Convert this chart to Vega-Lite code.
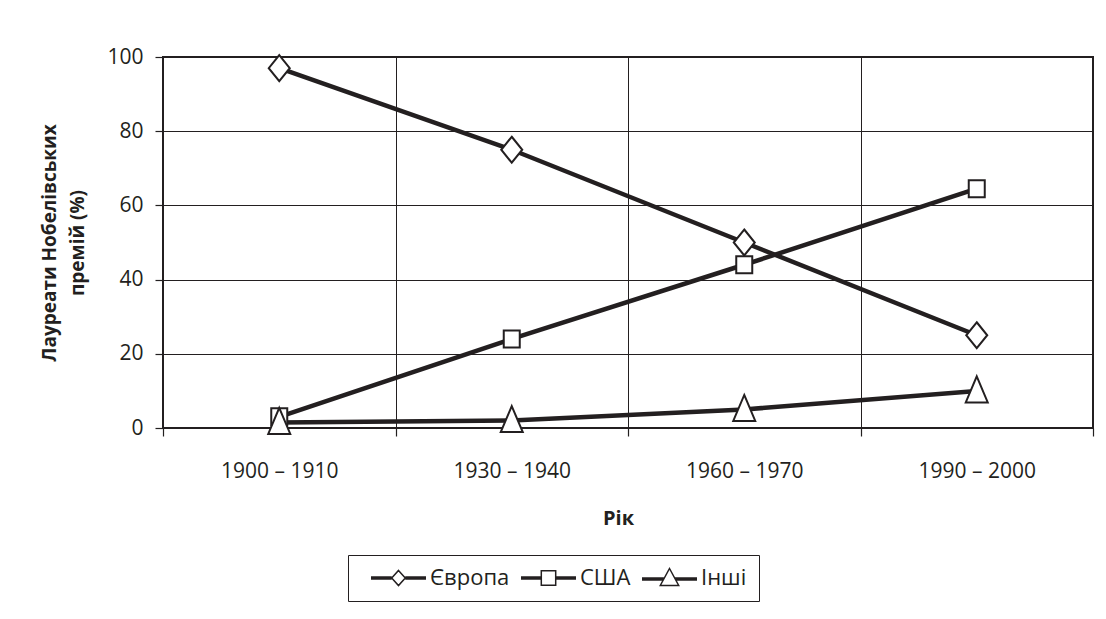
{
  "$schema": "https://vega.github.io/schema/vega-lite/v6.json",
  "width": 930,
  "height": 371,
  "autosize": {"type": "none"},
  "padding": {"left": 163, "top": 57, "right": 13, "bottom": 191},
  "background": "white",
  "config": {
    "font": "Open Sans",
    "view": {"stroke": "#231f20", "strokeWidth": 2},
    "axis": {
      "domain": false,
      "grid": true,
      "gridColor": "#231f20",
      "gridWidth": 1,
      "gridOpacity": 1,
      "ticks": true,
      "tickSize": 8,
      "tickColor": "#231f20",
      "tickWidth": 1.2,
      "labelFont": "Open Sans",
      "labelFontSize": 21,
      "labelColor": "#231f20",
      "titleFont": "Open Sans",
      "titleFontWeight": "bold",
      "titleColor": "#231f20"
    },
    "legend": {"strokeWidth": 1}
  },
  "data": {
    "values": [
      {"period": "1900 – 1910", "region": "Європа", "value": 97},
      {"period": "1930 – 1940", "region": "Європа", "value": 75},
      {"period": "1960 – 1970", "region": "Європа", "value": 50},
      {"period": "1990 – 2000", "region": "Європа", "value": 25},
      {"period": "1900 – 1910", "region": "США", "value": 3},
      {"period": "1930 – 1940", "region": "США", "value": 24},
      {"period": "1960 – 1970", "region": "США", "value": 44},
      {"period": "1990 – 2000", "region": "США", "value": 64.5},
      {"period": "1900 – 1910", "region": "Інші", "value": 1.5},
      {"period": "1930 – 1940", "region": "Інші", "value": 2},
      {"period": "1960 – 1970", "region": "Інші", "value": 5},
      {"period": "1990 – 2000", "region": "Інші", "value": 10}
    ]
  },
  "encoding": {
    "x": {
      "field": "period",
      "type": "nominal",
      "sort": ["1900 – 1910", "1930 – 1940", "1960 – 1970", "1990 – 2000"],
      "scale": {"paddingInner": 0, "paddingOuter": 0},
      "axis": {
        "title": "Рік",
        "labelAngle": 0,
        "tickBand": "extent",
        "labelPadding": 24,
        "titleFontSize": 20,
        "titlePadding": 27,
        "titleX": 455
      }
    },
    "y": {
      "field": "value",
      "type": "quantitative",
      "scale": {"domain": [0, 100]},
      "axis": {
        "title": ["Лауреати Нобелівських", "премій (%)"],
        "values": [0, 20, 40, 60, 80, 100],
        "labelPadding": 12,
        "titleFontSize": 19,
        "titleLineHeight": 28,
        "titlePadding": 19
      }
    }
  },
  "layer": [
    {
      "mark": {"type": "line", "stroke": "#231f20", "strokeWidth": 4.5},
      "encoding": {"detail": {"field": "region"}}
    },
    {
      "mark": {"type": "point", "filled": true, "fill": "white", "stroke": "#231f20", "strokeWidth": 2, "size": 400, "opacity": 1},
      "encoding": {
        "shape": {
          "field": "region",
          "scale": {
            "domain": ["Європа", "США", "Інші"],
            "range": [
              "M0,-1.3L1.05,0L0,1.3L-1.05,0Z",
              "M-0.8,-0.85H0.8V0.85H-0.8Z",
              "M0,-1.45L1.1,1.15L-1.1,1.15Z"
            ]
          },
          "legend": null
        }
      }
    },
    {
      "transform": [{"filter": "datum.value < 0"}],
      "mark": {"type": "point", "filled": false, "color": "#231f20", "strokeWidth": 1.5, "size": 400},
      "encoding": {
        "shape": {
          "field": "region",
          "scale": {
            "domain": ["Європа", "США", "Інші"],
            "range": [
              "M0,0H2.07M0,-0.11H2.07M0,0.11H2.07M3.43,0H5.5M3.43,-0.11H5.5M3.43,0.11H5.5M2.75,-0.76L3.43,0L2.75,0.76L2.07,0Z",
              "M0,0H2.03M0,-0.11H2.03M0,0.11H2.03M3.47,0H5.5M3.47,-0.11H5.5M3.47,0.11H5.5M2.03,-0.72H3.47V0.72H2.03Z",
              "M0,0.1H2.18M0,-0.01H2.18M0,0.21H2.18M3.32,0.1H5.5M3.32,-0.01H5.5M3.32,0.21H5.5M2.75,-0.95L3.67,0.75L1.83,0.75Z"
            ]
          },
          "legend": {
            "title": null,
            "orient": "none",
            "legendX": 185,
            "legendY": 498,
            "direction": "horizontal",
            "symbolSize": 400,
            "symbolStrokeWidth": 1.5,
            "symbolFillColor": "white",
            "symbolStrokeColor": "#231f20",
            "symbolOpacity": 1,
            "labelFont": "Open Sans",
            "labelFontSize": 22,
            "labelColor": "#231f20",
            "labelOffset": 48,
            "columnPadding": -5,
            "padding": 12,
            "strokeColor": "#231f20",
            "encode": {
              "symbols": {
                "update": {
                  "fill": {"value": "white"},
                  "stroke": {"value": "#231f20"},
                  "strokeWidth": {"value": 1.5},
                  "opacity": {"value": 1}
                }
              }
            }
          }
        }
      }
    }
  ],
  "resolve": {"scale": {"shape": "independent"}}
}
